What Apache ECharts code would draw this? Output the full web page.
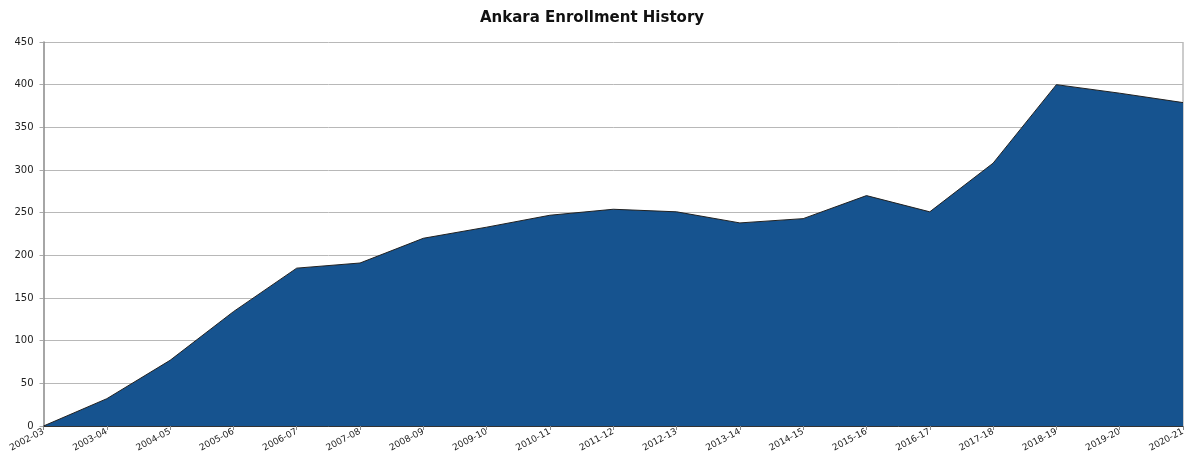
<!DOCTYPE html>
<html>
<head>
<meta charset="utf-8">
<script src="https://cdn.jsdelivr.net/npm/echarts@6/dist/echarts.min.js"></script>
<style>
  html, body { margin: 0; padding: 0; background: #fff; }
  #main { width: 1184px; height: 455px; }
</style>
</head>
<body>
<div id="main"></div>
<script>
// school years on the x axis
var years = ['2002-03', '2003-04', '2004-05', '2005-06', '2006-07', '2007-08', '2008-09',
  '2009-10', '2010-11', '2011-12', '2012-13', '2013-14', '2014-15', '2015-16',
  '2016-17', '2017-18', '2018-19', '2019-20', '2020-21'];
// enrollment per year
var enrollment = [0, 32, 77, 134, 185, 191, 220, 233, 247, 254, 251, 238, 243, 270,
  251, 308, 400, 390, 379];
var yTicks = [0, 450, 50]; // min, max, step

var myChart = echarts.init(document.getElementById('main'));
myChart.setOption({
  animation: false,
  title: {
    text: 'Ankara Enrollment History',
    left: 'center',
    top: 6,
    textStyle: { fontFamily: 'DejaVu Sans', fontSize: 15, fontWeight: 'bold', color: '#111' }
  },
  grid: { left: 43.5, right: 1, top: 42, bottom: 29, containLabel: false, outerBoundsMode: 'none' },
  xAxis: {
    type: 'category',
    data: years,
    boundaryGap: false,
    axisLine: { lineStyle: { color: '#333', width: 1 } },
    axisTick: { show: true, length: 4, lineStyle: { color: '#888' } },
    axisLabel: {
      rotate: 28,
      fontFamily: 'DejaVu Sans',
      fontSize: 9,
      color: '#222',
      margin: 5,
      interval: 0,
      hideOverlap: false
    },
    splitLine: { show: false }
  },
  yAxis: {
    type: 'value',
    min: yTicks[0],
    max: yTicks[1],
    interval: yTicks[2],
    axisLine: { show: true, lineStyle: { color: '#888', width: 1.5 } },
    axisTick: { show: true, length: 4, lineStyle: { color: '#aaa' } },
    axisLabel: { fontFamily: 'DejaVu Sans', fontSize: 10, color: '#222', margin: 10 },
    splitLine: { show: true, lineStyle: { color: '#b8b8b8', width: 1 } }
  },
  series: [{
    type: 'line',
    data: enrollment,
    symbol: 'none',
    lineStyle: { color: '#222', width: 1 },
    areaStyle: { color: '#16538f', opacity: 1 }
  }],
  graphic: [{
    // right border of the plot
    type: 'line',
    shape: { x1: 1183, y1: 42, x2: 1183, y2: 426 },
    style: { stroke: '#999', lineWidth: 1 }
  }]
});
</script>
</body>
</html>
